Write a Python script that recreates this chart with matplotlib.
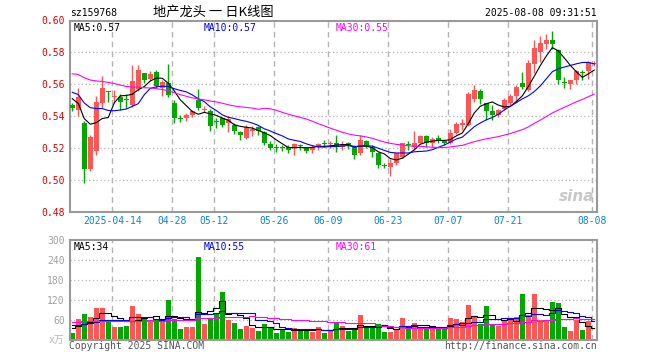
import numpy as np
import pandas as pd
import matplotlib
matplotlib.use("Agg")
import matplotlib.pyplot as plt

plt.rcParams['font.family'] = ['DejaVu Sans Mono', 'Noto Sans CJK SC']

# daily candles, 2025-04-02 .. 2025-08-08
opens = [0.547, 0.544, 0.536, 0.507, 0.518, 0.548, 0.556, 0.552, 0.552, 0.5505,
         0.547, 0.557, 0.567, 0.5635, 0.568, 0.558, 0.561, 0.5486, 0.5386, 0.539,
         0.541, 0.550, 0.544, 0.543, 0.5367, 0.539, 0.5355, 0.5345, 0.530, 0.5265,
         0.531, 0.5335, 0.530, 0.5228, 0.5203, 0.5201, 0.521, 0.520, 0.5215, 0.520,
         0.519, 0.5205, 0.5227, 0.5225, 0.523, 0.521, 0.523, 0.521, 0.5167, 0.5245,
         0.5208, 0.517, 0.5092, 0.508, 0.5104, 0.5146, 0.5222, 0.5205, 0.5233, 0.5275,
         0.5235, 0.5262, 0.5246, 0.523, 0.5297, 0.5348, 0.5344, 0.5508, 0.5556, 0.548,
         0.5433, 0.5406, 0.5448, 0.5485, 0.5525, 0.561, 0.5563, 0.573, 0.580, 0.585,
         0.5875, 0.5817, 0.5612, 0.5604, 0.5625, 0.5672, 0.5683, 0.5725]
highs = [0.548, 0.558, 0.537, 0.528, 0.553, 0.565, 0.556, 0.5566, 0.554, 0.554,
         0.572, 0.572, 0.567, 0.5686, 0.569, 0.563, 0.573, 0.550, 0.5405, 0.542,
         0.544, 0.557, 0.5465, 0.5445, 0.539, 0.5395, 0.540, 0.5355, 0.531, 0.5345,
         0.534, 0.534, 0.531, 0.5245, 0.5225, 0.522, 0.522, 0.5235, 0.5225, 0.521,
         0.522, 0.523, 0.525, 0.5245, 0.528, 0.5245, 0.524, 0.522, 0.528, 0.525,
         0.522, 0.5177, 0.5104, 0.5135, 0.5171, 0.5233, 0.5246, 0.531, 0.5285, 0.528,
         0.527, 0.528, 0.5254, 0.532, 0.5365, 0.538, 0.555, 0.5594, 0.5573, 0.5483,
         0.5469, 0.5448, 0.5517, 0.5538, 0.5594, 0.5677, 0.575, 0.588, 0.590, 0.5913,
         0.5933, 0.5823, 0.5646, 0.563, 0.5688, 0.5692, 0.5746, 0.5746]
lows = [0.543, 0.540, 0.498, 0.506, 0.516, 0.545, 0.549, 0.5484, 0.544, 0.545,
        0.546, 0.556, 0.561, 0.562, 0.558, 0.5525, 0.552, 0.536, 0.5364, 0.537,
        0.5395, 0.544, 0.5425, 0.531, 0.5326, 0.533, 0.530, 0.529, 0.525, 0.526,
        0.5275, 0.528, 0.522, 0.519, 0.5177, 0.518, 0.517, 0.5156, 0.519, 0.517,
        0.517, 0.519, 0.521, 0.520, 0.5177, 0.519, 0.5192, 0.513, 0.516, 0.520,
        0.5142, 0.5073, 0.5073, 0.5025, 0.5094, 0.514, 0.5188, 0.519, 0.523, 0.521,
        0.520, 0.523, 0.522, 0.5225, 0.529, 0.5313, 0.5337, 0.549, 0.5475, 0.5375,
        0.5379, 0.5396, 0.544, 0.547, 0.549, 0.5573, 0.5558, 0.567, 0.574, 0.5823,
        0.5823, 0.560, 0.5577, 0.5573, 0.5604, 0.563, 0.5635, 0.5713]
closes = [0.545, 0.552, 0.507, 0.527, 0.549, 0.558, 0.555, 0.553, 0.549, 0.550,
          0.562, 0.569, 0.563, 0.5665, 0.559, 0.5615, 0.5535, 0.539, 0.5383, 0.541,
          0.543, 0.545, 0.5448, 0.5337, 0.5363, 0.5345, 0.538, 0.531, 0.5285, 0.5335,
          0.532, 0.5305, 0.5235, 0.520, 0.520, 0.5198, 0.519, 0.5225, 0.5212, 0.5185,
          0.521, 0.5225, 0.5224, 0.5229, 0.5205, 0.5229, 0.5222, 0.5156, 0.525, 0.521,
          0.5177, 0.5094, 0.509, 0.5104, 0.5167, 0.523, 0.522, 0.523, 0.5275, 0.5233,
          0.526, 0.5245, 0.523, 0.5296, 0.5354, 0.535, 0.554, 0.5563, 0.5506, 0.5433,
          0.5406, 0.5442, 0.5504, 0.5525, 0.5583, 0.5585, 0.5733, 0.583, 0.5858, 0.588,
          0.585, 0.563, 0.561, 0.5625, 0.5683, 0.567, 0.574, 0.573]
# volume, 万
volumes = [22, 63, 78, 70, 97, 97, 59, 40, 40, 43,
           103, 77, 63, 60, 60, 60, 120, 63, 33, 40,
           40, 250, 47, 65, 80, 145, 60, 52, 33, 43,
           37, 28, 48, 37, 22, 32, 25, 36, 32, 32,
           25, 40, 22, 28, 52, 43, 28, 33, 75, 37,
           40, 47, 25, 25, 33, 66, 40, 51, 37, 35,
           40, 35, 35, 66, 63, 55, 105, 72, 47, 103,
           47, 43, 60, 60, 70, 138, 75, 138, 60, 60,
           114, 111, 39, 27, 60, 30, 57, 3]

# closes / volumes before the window (only needed to start the MA lines)
pre_close = [0.565, 0.568, 0.570, 0.566, 0.568, 0.572, 0.575, 0.578, 0.576, 0.573,
             0.571, 0.574, 0.571, 0.573, 0.576, 0.578, 0.575, 0.574, 0.572, 0.573,
             0.566, 0.560, 0.556, 0.555, 0.558, 0.567, 0.5545, 0.5445, 0.544]
pre_vol = [62, 55, 70, 58, 64, 52, 60, 66, 57, 61, 59, 63, 55, 68, 58, 60, 62, 54, 57, 59,
           55, 50, 58, 48, 54, 45, 38, 42, 38]

tick_idx = [7, 17, 24, 34, 43, 53, 63, 73, 87]
tick_labels = ['2025-04-14', '04-28', '05-12', '05-26', '06-09', '06-23', '07-07', '07-21', '08-08']
price_ticks = [0.48, 0.50, 0.52, 0.54, 0.56, 0.58, 0.60]
vol_ticks = [60, 120, 180, 240, 300]

RED = '#ff5555'
GREEN = '#00a800'
GRID = '#b4b4b4'
FRAME = '#999999'
BLUE_TXT = '#0a84d6'


def ma(pre, vals, n):
    s = pd.Series(pre + vals, dtype=float)
    return s.rolling(n).mean().values[len(pre):]


x = np.arange(len(closes))
o = np.array(opens)
c = np.array(closes)
colors = np.where(c >= o, RED, GREEN)

W, H = 660, 360


def box(l, t, r, b):
    return [l / W, 1 - b / H, (r - l) / W, (b - t) / H]


fig = plt.figure(figsize=(6.6, 3.6), dpi=100)
ax = fig.add_axes(box(70.3, 20.5, 597.3, 212))
axv = fig.add_axes(box(70.3, 240, 597.3, 340))

xmin, xmax = -0.33, 87.5
grid_x = [t - 0.33 for t in tick_idx]

# price panel
for y in price_ticks[1:-1]:
    ax.axhline(y, color=GRID, ls=(0, (1, 2)), lw=0.9, zorder=0)
for gx in grid_x:
    ax.axvline(gx, color=GRID, ls=(0, (4, 3)), lw=1, zorder=0)
    axv.axvline(gx, color=GRID, ls=(0, (4, 3)), lw=1, zorder=0)

ax.vlines(x, lows, highs, colors=colors, lw=1, zorder=2)
ax.bar(x, np.maximum(np.abs(c - o), 0.0007), bottom=np.minimum(o, c), width=0.8,
       color=colors, linewidth=0, zorder=3)

ax.plot(x, ma(pre_close, closes, 5), color='black', lw=0.8, zorder=4)
ax.plot(x, ma(pre_close, closes, 10), color='#0000ff', lw=0.8, zorder=4)
ax.plot(x, ma(pre_close, closes, 30), color='#ff00ff', lw=0.8, zorder=4)

ax.set_xlim(xmin, xmax)
ax.set_ylim(0.48, 0.60)
ax.set_yticks(price_ticks)
ax.set_yticklabels(['%.2f' % v for v in price_ticks])
ax.tick_params(axis='y', length=0, pad=4, labelsize=7, labelcolor='#e00000')
ax.set_xticks(grid_x)
ax.set_xticklabels(tick_labels)
ax.tick_params(axis='x', length=0, pad=3, labelsize=7, labelcolor=BLUE_TXT)

ax.text(0.006, 0.985, 'MA5:0.57', transform=ax.transAxes, fontsize=7, color='black', va='top')
ax.text(0.253, 0.985, 'MA10:0.57', transform=ax.transAxes, fontsize=7, color='#0000ff', va='top')
ax.text(0.503, 0.985, 'MA30:0.55', transform=ax.transAxes, fontsize=7, color='#ff00ff', va='top')
ax.text(0.995, 0.04, 'sina', transform=ax.transAxes, fontsize=11, color='#c8c8c8',
        ha='right', va='bottom', style='italic', weight='bold', family='DejaVu Sans')

# volume panel
for y in vol_ticks[:-1]:
    axv.axhline(y, color=GRID, ls=(0, (1, 2)), lw=0.9, zorder=0)
axv.bar(x, volumes, width=0.8, color=colors, linewidth=0, zorder=2)
axv.plot(x, ma(pre_vol, volumes, 5), color='black', lw=0.8, drawstyle='steps-mid', zorder=3)
axv.plot(x, ma(pre_vol, volumes, 10), color='#0000ff', lw=0.8, drawstyle='steps-mid', zorder=3)
axv.plot(x, ma(pre_vol, volumes, 30), color='#ff00ff', lw=0.8, drawstyle='steps-mid', zorder=3)
axv.set_xlim(xmin, xmax)
axv.set_ylim(0, 300)
axv.set_xticks([])
axv.set_yticks(vol_ticks)
axv.set_yticklabels([str(v) for v in vol_ticks])
axv.tick_params(axis='y', length=0, pad=4, labelsize=7, labelcolor='#a0a0a0')
axv.text(-0.012, 0.0, 'x万', transform=axv.transAxes, fontsize=7, color='#b8b8b8',
         ha='right', va='center')

axv.text(0.006, 0.985, 'MA5:34', transform=axv.transAxes, fontsize=7, color='black', va='top')
axv.text(0.253, 0.985, 'MA10:55', transform=axv.transAxes, fontsize=7, color='#0000ff', va='top')
axv.text(0.503, 0.985, 'MA30:61', transform=axv.transAxes, fontsize=7, color='#ff00ff', va='top')

for a in (ax, axv):
    for s in a.spines.values():
        s.set_color(FRAME)
        s.set_linewidth(1.5)

# header and footer
fig.text(70 / W, 1 - 13 / H, 'sz159768', fontsize=7, color='black', va='center')
fig.text(213 / W, 1 - 12.5 / H, '地产龙头 一 日K线图', fontsize=9.5, color='black',
         ha='center', va='center', family=['Noto Sans CJK SC', 'DejaVu Sans'])
fig.text(597 / W, 1 - 13 / H, '2025-08-08 09:31:51', fontsize=7, color='black',
         ha='right', va='center')
fig.text(69 / W, 1 - 346 / H, 'Copyright 2025 SINA.COM', fontsize=7, color='#555555', va='center')
fig.text(597 / W, 1 - 346 / H, 'http://finance.sina.com.cn', fontsize=7, color='#555555',
         ha='right', va='center')

fig.savefig('out.png', dpi=100, facecolor='white')
